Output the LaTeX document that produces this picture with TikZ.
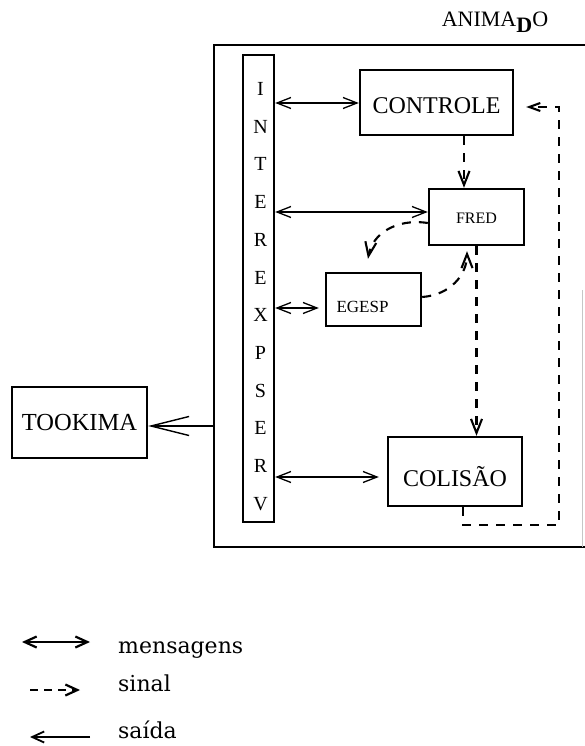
\documentclass[tikz,border=0pt]{standalone}
\usepackage{fontspec}
\setmainfont{Liberation Serif}
\newfontfamily\legfont{DejaVu Serif}
\usetikzlibrary{arrows.meta}
\newcommand{\fs}[1]{\fontsize{#1}{#1}\selectfont}
\begin{document}
\begin{tikzpicture}[x=1pt,y=-1pt,
  box/.style={draw, line width=2.4pt, rectangle, inner sep=0pt},
  outerbox/.style={draw, line width=1.5pt, rectangle, inner sep=0pt},
  msg/.style={line width=1.3pt, {Straight Barb[length=14pt,width=11pt]}-{Straight Barb[length=14pt,width=11pt]}},
  sig/.style={line width=2.1pt, dash pattern=on 9pt off 8pt, -{Straight Barb[length=14pt,width=11pt]}},
  sigsmall/.style={line width=2.1pt, dash pattern=on 9pt off 8pt, -{Straight Barb[length=11pt,width=8pt]}},
  outarrow/.style={line width=1.4pt, -{Straight Barb[length=38pt,width=19pt]}},
  letter/.style={font=\fs{20}, inner sep=0pt},
  legtext/.style={font=\legfont\fs{22}, anchor=base west, inner sep=0pt}
]
\useasboundingbox (0,0) rectangle (584,746);

% outer ANIMADO box (extends past right edge)
\node[outerbox, minimum width=386pt, minimum height=502pt] (animado) at (407,296) {};
\draw[gray!45, line width=1pt] (582,290) -- (582,547);
\node[font=\fs{22}, inner sep=0pt] (title) at (495,22) {ANIMA\raisebox{-6pt}{\bfseries D}O};

% interface bar
\node[box, minimum width=31pt, minimum height=467pt] (bar) at (258.5,288.5) {};
\foreach \ch [count=\i from 0] in {I,N,T,E,R,E,X,P,S,E,R,V}
  \node[letter] (l\i) at (260.5,{89+37.7*\i}) {\ch};

% modules
\node[box, minimum width=153pt, minimum height=65pt, font=\fs{24}, text height=22.9pt, text depth=0pt] (controle) at (436.5,102.5) {CONTROLE};
\node[box, minimum width=95pt, minimum height=56pt, font=\fs{16}, text height=12.6pt, text depth=0pt] (fred) at (476.5,217) {FRED};
\node[box, minimum width=95pt, minimum height=53pt, font=\fs{17}, text height=26.3pt, text depth=0pt] (egesp) at (373.5,299.5) {EGESP\hspace*{22pt}};
\node[box, minimum width=134pt, minimum height=69pt, font=\fs{24}, text height=29.9pt, text depth=0pt] (colisao) at (455,471.5) {COLISÃO};
\node[box, minimum width=135pt, minimum height=71pt, font=\fs{24.5}, text height=16.2pt, text depth=0pt] (tookima) at (79.5,422.5) {TOOKIMA};

% messages
\draw[msg] (bar.east |- 0,103) -- (controle.west |- 0,103);
\draw[msg] (bar.east |- 0,212) -- (fred.west |- 0,212);
\draw[msg] (bar.east |- 0,308) -- ([xshift=-6pt]egesp.west |- 0,308);
\draw[msg] (bar.east |- 0,477) -- ([xshift=-8pt]colisao.west |- 0,477);

% output
\draw[outarrow] (animado.west |- 0,426) -- (tookima.east |- 0,426);

% signals
\draw[sig] ([xshift=27.5pt]controle.south) -- ([xshift=27.5pt]controle.south |- fred.north);
\draw[sig] (fred.south) -- (fred.south |- colisao.north);
\draw[sig] ([yshift=-6pt]fred.west) .. controls (395,218) and (372,235) .. ([xshift=-5.5pt,yshift=13pt]egesp.north);
\draw[sig] ([yshift=2.5pt]egesp.east) .. controls (450,295) and (467,275) .. ([xshift=-9.5pt,yshift=-5pt]fred.south);
\coordinate (fb) at (559,525);
\coordinate (fbt) at (559,107);
\draw[sigsmall] ([xshift=8pt]colisao.south) |- (fb) -- (fbt) -- ([xshift=12pt]controle.east |- fbt);

% legend
\coordinate (m1) at (22,642); \coordinate (m2) at (90,642);
\draw[line width=2.2pt, {Straight Barb[length=12pt,width=11pt]}-{Straight Barb[length=12pt,width=11pt]}] (m1) -- (m2);
\node[legtext] (lmsg) at (118,653) {mensagens};
\coordinate (s1) at (30,690); \coordinate (s2) at (80,690);
\draw[line width=2.2pt, dash pattern=on 8pt off 6pt, -{Straight Barb[length=12pt,width=11pt]}] (s1) -- (s2);
\node[legtext] (lsig) at (118,691) {sinal};
\coordinate (o1) at (90,737); \coordinate (o2) at (30,737);
\draw[line width=1.8pt, -{Straight Barb[length=12pt,width=11pt]}] (o1) -- (o2);
\node[legtext] (lout) at (118,738) {saída};
\end{tikzpicture}
\end{document}
